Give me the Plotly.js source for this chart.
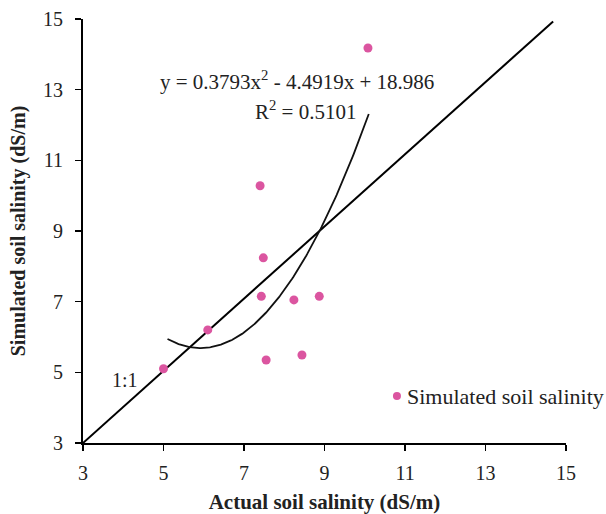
<!DOCTYPE html>
<html>
<head>
<meta charset="utf-8">
<script src="https://cdn.plot.ly/plotly-3.0.1.min.js"></script>
<style>html,body{margin:0;padding:0;background:#fff;}#chart{width:606px;height:514px;}</style>
</head>
<body>
<div id="chart"></div>
<script>
// Observed points
var actualSalinity = [5.0, 6.1, 7.4, 7.48, 7.43, 7.55, 8.24, 8.44, 8.87, 10.08];
var simulatedSalinity = [5.1, 6.2, 10.28, 8.24, 7.15, 5.35, 7.05, 5.49, 7.15, 14.18];
// Polynomial trendline coefficients (a x^2 + b x + c) and x-range
var trendCoef = [0.3793, -4.4919, 18.986];
var trendRange = [5.1, 10.1];
// 1:1 reference line end points
var oneToOneX = [3, 14.68];
var oneToOneY = [3, 14.93];
// Axis ticks
var tickVals = [3, 5, 7, 9, 11, 13, 15];

var tx = [], ty = [];
var n = 200;
for (var i = 0; i <= n; i++) {
  var x = trendRange[0] + (trendRange[1] - trendRange[0]) * i / n;
  tx.push(x);
  ty.push(trendCoef[0] * x * x + trendCoef[1] * x + trendCoef[2]);
}

var serif = 'Liberation Serif, Times New Roman, serif';
var pink = '#db55a0';
var txt = '#222';

var traces = [
  {x: oneToOneX, y: oneToOneY, mode: 'lines', line: {color: '#000', width: 2}, showlegend: false, hoverinfo: 'skip'},
  {x: tx, y: ty, mode: 'lines', line: {color: '#111', width: 1.8}, showlegend: false, hoverinfo: 'skip'},
  {x: actualSalinity, y: simulatedSalinity, mode: 'markers', name: 'Simulated soil salinity',
   marker: {color: pink, size: 9}, showlegend: false},
  {x: [10.8], y: [4.33], mode: 'markers', marker: {color: pink, size: 8}, showlegend: false, cliponaxis: false, hoverinfo: 'skip'}
];

var axisCommon = {
  range: [3, 15], tickvals: tickVals, ticktext: tickVals.map(String),
  showgrid: false, zeroline: false, showline: true, linecolor: '#000', linewidth: 2,
  ticks: 'outside', ticklen: 6, tickwidth: 1.6, tickcolor: '#000',
  tickfont: {family: serif, size: 20, color: txt}
};

var layout = {
  width: 606, height: 514,
  margin: {l: 83, r: 40, t: 19, b: 71},
  paper_bgcolor: '#fff', plot_bgcolor: '#fff',
  xaxis: Object.assign({}, axisCommon, {
    ticklabelstandoff: 5,
    title: {text: '<b>Actual soil salinity (dS/m)</b>', font: {family: serif, size: 21, color: txt}, standoff: 11}
  }),
  yaxis: Object.assign({}, axisCommon, {
    ticklabelstandoff: 8,
    title: {text: '<b>Simulated soil salinity (dS/m)</b>', font: {family: serif, size: 20, color: txt}, standoff: 12}
  }),
  showlegend: false,
  annotations: [
    {x: 8.32, y: 13.26, xref: 'x', yref: 'y', text: 'y = 0.3793x<sup>2</sup> - 4.4919x + 18.986', showarrow: false,
     font: {family: serif, size: 21, color: txt}},
    {x: 8.54, y: 12.4, xref: 'x', yref: 'y', text: 'R<sup>2</sup> = 0.5101', showarrow: false,
     font: {family: serif, size: 21, color: txt}},
    {x: 4.05, y: 4.78, xref: 'x', yref: 'y', text: '1:1', showarrow: false,
     font: {family: serif, size: 20, color: txt}},
    {x: 11.0, y: 4.33, xref: 'x', yref: 'y', xanchor: 'left', text: 'Simulated soil salinity', showarrow: false,
     font: {family: serif, size: 22, color: txt}}
  ]
};

Plotly.newPlot('chart', traces, layout, {displayModeBar: false, staticPlot: true});
</script>
</body>
</html>
